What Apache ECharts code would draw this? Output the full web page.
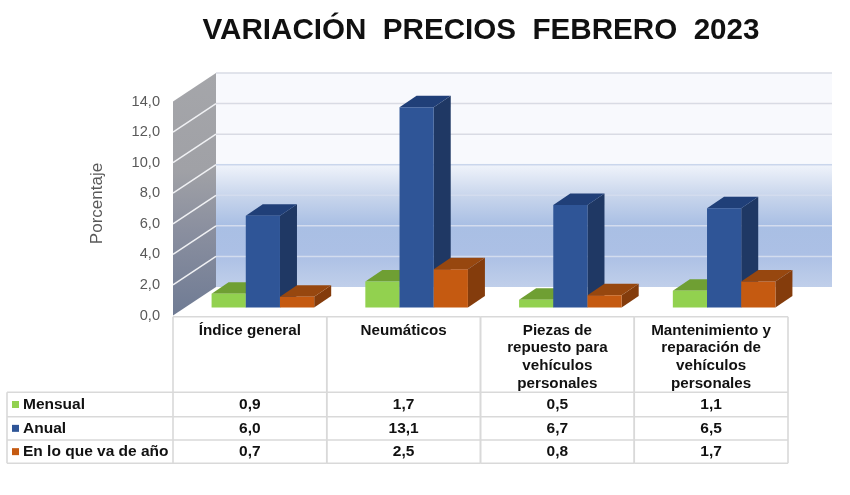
<!DOCTYPE html>
<html><head><meta charset="utf-8">
<style>html,body{margin:0;padding:0;background:#fff}#c{width:850px;height:495px}</style>
<script src="https://cdn.jsdelivr.net/npm/echarts@6/dist/echarts.min.js"></script>
</head><body><div id="c"></div>
<script>
const titleText = 'VARIACIÓN  PRECIOS  FEBRERO  2023';
const categories = ['Índice general','Neumáticos','Piezas de\nrepuesto para\nvehículos\npersonales','Mantenimiento y\nreparación de\nvehículos\npersonales'];
const mensual = [0.9,1.7,0.5,1.1];
const anual = [6.0,13.1,6.7,6.5];
const enLoQueVa = [0.7,2.5,0.8,1.7];
const yTicks = [0,2,4,6,8,10,12,14];
const seriesNames = ['Mensual','Anual','En lo que va de año'];

const fmt = v => v.toFixed(1).replace('.',',');
const FONT = '"Liberation Sans", Arial, sans-serif';
const WALL = {dx:43, dy:28.5, right:44};
const BAR = {planeDx:13, planeDy:8, dx:17, dy:11.5, share:0.2224};
const COLORS = [
  {front:'#92d14f', top:'#6f9f33', side:'#5f8a2a'},
  {front:'#2f5597', top:'#203f78', side:'#1f3864'},
  {front:'#c55a11', top:'#97470f', side:'#843c0c'}
];
const ROWS = [316.7,392.3,416.7,440,463.3];
const TABLE_LEFT = 7, LINE = '#d9d9d9';

function renderWalls(params, api){
  const top = api.coord([0,14]), bot = api.coord([0,0]);
  const band = api.size([1,0])[0];
  const x0 = top[0]-band/2, x1 = x0+WALL.dx;
  const xr = x0+band*4+WALL.right;
  const yt = top[1]-WALL.dy, yb = bot[1]-WALL.dy;
  return {type:'group', children:[
    {type:'polygon', shape:{points:[[x0,top[1]],[x1,yt],[x1,yb],[x0,bot[1]]]},
     style:{fill:new echarts.graphic.LinearGradient(0,0,0,1,[
       {offset:0,color:'#a5a6aa'},{offset:0.4,color:'#a0a1a6'},{offset:0.65,color:'#8a8f9f'},{offset:1,color:'#6f7b94'}])}},
    {type:'rect', shape:{x:x1,y:yt,width:xr-x1,height:yb-yt},
     style:{fill:new echarts.graphic.LinearGradient(0,0,0,1,[
       {offset:0,color:'#f8f9fd'},{offset:0.42,color:'#f8f9fd'},{offset:0.435,color:'#eef2fa'},
       {offset:0.57,color:'#c9d6ec'},{offset:0.71,color:'#a9bfe4'},{offset:0.85,color:'#acc0e5'},{offset:1,color:'#c0cfea'}])}}
  ]};
}
function renderTicks(params, api){
  const t = api.value(1);
  if(t===0) return {type:'group',children:[]};
  const p = api.coord([0,t]);
  const band = api.size([1,0])[0];
  const x0 = p[0]-band/2, x1 = x0+WALL.dx, xr = x0+band*4+WALL.right, y1 = p[1]-WALL.dy;
  const back = t===8 ? '#cad6ec' : (t<8 ? '#d3dcee' : '#d9dbe4');
  const kids = [{type:'line',shape:{x1:x1,y1:y1,x2:xr,y2:y1},style:{stroke:back,lineWidth:1.5}}];
  if(t<14) kids.push({type:'line',shape:{x1:x0,y1:p[1],x2:x1,y2:y1},style:{stroke:'#f0f1f4',lineWidth:1.5}});
  return {type:'group',children:kids};
}
function renderBar(params, api){
  const i = api.value(0), v = api.value(1);
  const base = api.coord([i,0]), top = api.coord([i,v]);
  const band = api.size([1,0])[0], w = band*BAR.share;
  const s = params.seriesIndex-2;
  const c = COLORS[s];
  const xl = base[0]+BAR.planeDx+(s-1.5)*w, xr = xl+w;
  const yb = base[1]-BAR.planeDy, yt = top[1]-BAR.planeDy;
  const poly = (pts,fill)=>({type:'polygon',shape:{points:pts},style:{fill:fill}});
  return {type:'group',children:[
    poly([[xr,yb],[xr+BAR.dx,yb-BAR.dy],[xr+BAR.dx,yt-BAR.dy],[xr,yt]],c.side),
    poly([[xl,yt],[xl+BAR.dx,yt-BAR.dy],[xr+BAR.dx,yt-BAR.dy],[xr,yt]],c.top),
    {type:'rect',shape:{x:xl,y:yt,width:w,height:yb-yt},style:{fill:c.front}}
  ]};
}
const tableValues = [mensual,anual,enLoQueVa];
function renderTable(params, api){
  const i = api.value(0);
  const c = api.coord([i,0]);
  const band = api.size([1,0])[0];
  const xl = c[0]-band/2, xr = xl+band;
  const kids = [];
  const ln = (a,b,d,e)=>kids.push({type:'line',shape:{x1:a,y1:b,x2:d,y2:e},style:{stroke:LINE,lineWidth:1.6}});
  const bottom = ROWS[ROWS.length-1];
  ln(xl,ROWS[0],xl,bottom); ln(xr,ROWS[0],xr,bottom);
  ROWS.forEach(y=>ln(xl,y,xr,y));
  tableValues.forEach((arr,r)=>{
    kids.push({type:'text',style:{text:fmt(arr[i]),x:c[0],y:(ROWS[r+1]+ROWS[r+2])/2+0.5,align:'center',verticalAlign:'middle',
      font:'bold 15.5px '+FONT,fill:'#111'}});
  });
  if(i===0){
    ln(TABLE_LEFT,ROWS[1],TABLE_LEFT,bottom);
    for(let r=1;r<ROWS.length;r++) ln(TABLE_LEFT,ROWS[r],xl,ROWS[r]);
    seriesNames.forEach((n,r)=>{
      const ym = (ROWS[r+1]+ROWS[r+2])/2;
      kids.push({type:'rect',shape:{x:12,y:ym-3.5,width:7,height:7},style:{fill:COLORS[r].front}});
      kids.push({type:'text',style:{text:n,x:23,y:ym,align:'left',verticalAlign:'middle',font:'bold 15.5px '+FONT,fill:'#111'}});
    });
  }
  return {type:'group',children:kids};
}

const barData = arr => arr.map((v,i)=>[i,v]);
const chart = echarts.init(document.getElementById('c'),null,{renderer:'canvas'});
chart.setOption({
  animation:false,
  backgroundColor:'#fff',
  title:{text:titleText,left:476,top:11,textAlign:'center',
    textStyle:{fontFamily:FONT,fontWeight:'bold',fontSize:29.6,color:'#111'}},
  grid:{left:173,width:615,top:101.5,height:214},
  xAxis:{type:'category',data:categories,
    axisLine:{show:false},axisTick:{show:false},splitLine:{show:false},
    axisLabel:{interval:0,margin:6,color:'#111',fontFamily:FONT,fontWeight:'bold',fontSize:15.2,lineHeight:17.7,align:'center',verticalAlign:'top'}},
  yAxis:{type:'value',min:0,max:14,interval:2,
    name:'Porcentaje',nameLocation:'middle',nameGap:67,nameRotate:90,
    nameTextStyle:{color:'#595959',fontFamily:FONT,fontSize:17,padding:[0,0,0,10]},
    axisLine:{show:false},axisTick:{show:false},splitLine:{show:false},
    axisLabel:{margin:13,color:'#595959',fontFamily:FONT,fontSize:14.6,formatter:fmt}},
  series:[
    {type:'custom',name:'paredes',renderItem:renderWalls,data:[[0,0]],clip:false,silent:true,z:1},
    {type:'custom',name:'rejilla',renderItem:renderTicks,data:yTicks.map(t=>[0,t]),clip:false,silent:true,z:2},
    {type:'custom',name:seriesNames[0],renderItem:renderBar,data:barData(mensual),clip:false,z:3},
    {type:'custom',name:seriesNames[1],renderItem:renderBar,data:barData(anual),clip:false,z:4},
    {type:'custom',name:seriesNames[2],renderItem:renderBar,data:barData(enLoQueVa),clip:false,z:5},
    {type:'custom',name:'tabla',renderItem:renderTable,data:categories.map((c,i)=>[i,0]),clip:false,silent:true,z:0}
  ]
});
</script></body></html>
